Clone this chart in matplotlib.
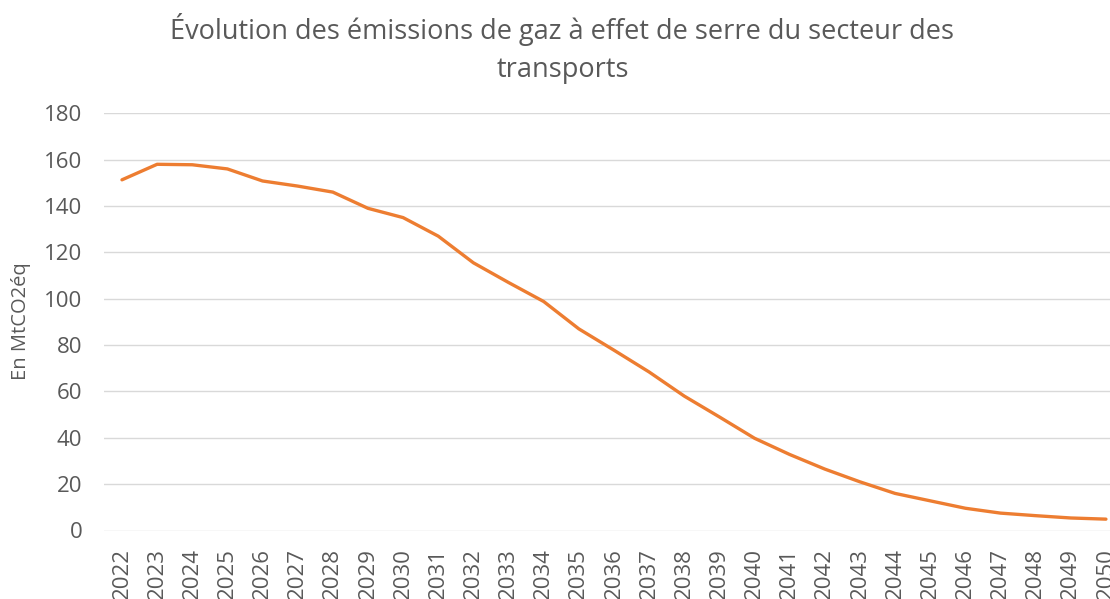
import matplotlib
matplotlib.use("Agg")
import matplotlib.pyplot as plt

years = list(range(2022, 2051))
emissions = [151.3, 158.0, 157.8, 156.0, 150.8, 148.6, 146.0, 139.0, 135.0, 127.0,
             115.5, 107.0, 98.8, 87.0, 77.8, 68.4, 58.0, 49.0, 39.8, 32.8,
             26.5, 21.0, 16.0, 12.8, 9.6, 7.5, 6.4, 5.4, 4.9]
title_lines = ["Évolution des émissions de gaz à effet de serre du secteur des", "transports"]
y_label = "En MtCO2éq"
y_ticks = [0, 20, 40, 60, 80, 100, 120, 140, 160, 180]

plt.rcParams['font.family'] = ['Open Sans', 'DejaVu Sans']
W, H = 1110, 599
fig = plt.figure(figsize=(W / 100, H / 100), dpi=100)
left, right = 104.4, 1123.5
top, bottom = 113.3, 530.5
ax = fig.add_axes([left / W, 1 - bottom / H, (right - left) / W, (bottom - top) / H])

ax.plot(years, emissions, color='#ED7D31', lw=2.4, solid_capstyle='round', zorder=3)
ax.set_xlim(2021.5, 2050.5)
ax.set_ylim(0, 180)
ax.set_yticks(y_ticks)
ax.set_xticks(years)
ax.set_xticklabels([str(y) for y in years], rotation=90, va='top')
ax.grid(axis='y', color='#D9D9D9', lw=1)
ax.set_axisbelow(True)
for s in ax.spines.values():
    s.set_visible(False)
ax.tick_params(length=0, colors='#595959', labelsize=16)
ax.tick_params(axis='y', pad=16)
ax.tick_params(axis='x', pad=12.5)

fig.text(21 / W, 1 - 321 / H, y_label, rotation=90, ha='center', va='center',
         fontsize=14.5, color='#595959')
fig.text(562.5 / W, 1 - 30 / H, title_lines[0], ha='center', va='center',
         fontsize=19.5, color='#595959')
fig.text(562.5 / W, 1 - 70 / H, title_lines[1], ha='center', va='center',
         fontsize=19.5, color='#595959')

fig.savefig('out.png', dpi=100)
